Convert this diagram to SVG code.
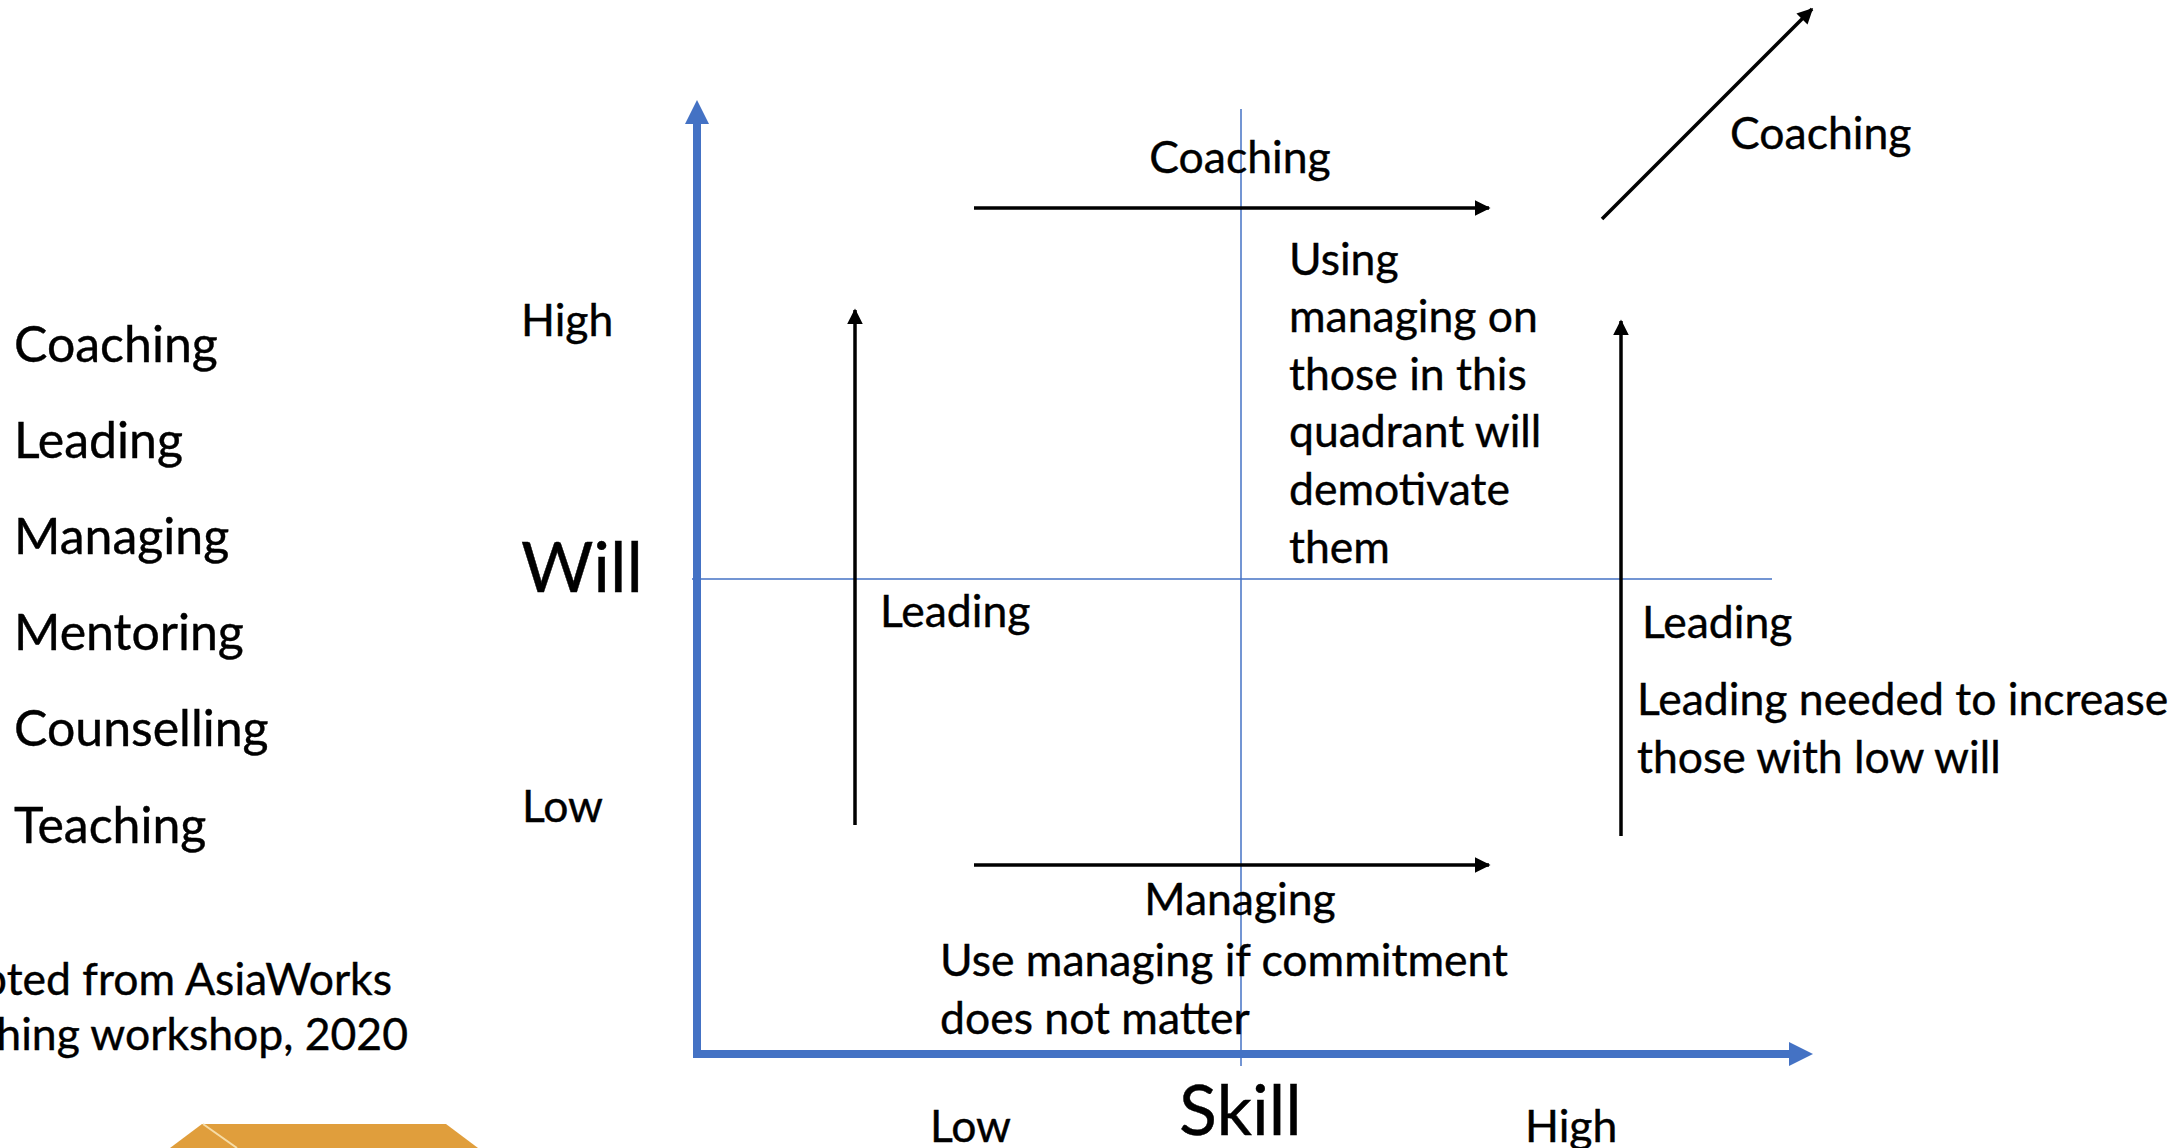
<svg xmlns="http://www.w3.org/2000/svg" width="2184" height="1148" viewBox="0 0 2184 1148">
  <defs>
    <style>
      text { font-family: Lato, "Open Sans", "Liberation Sans", sans-serif; fill: #000; stroke: #000; stroke-width: 0.4px; }
      .t { font-size: 44.5px; }
      .list { font-size: 50px; }
      .big { font-size: 70px; }
      .axis { stroke: #4472C4; stroke-width: 8; fill: none; }
      .grid { stroke: #4472C4; stroke-width: 1.5; fill: none; }
      .arrow { stroke: #000; stroke-width: 3.5; fill: none; marker-end: url(#head); }
    </style>
    <marker id="head" viewBox="0 0 10 10" refX="9" refY="5" markerWidth="4.5" markerHeight="4.5" markerUnits="strokeWidth" orient="auto">
      <path d="M0,0 L10,5 L0,10 z" fill="#000"/>
    </marker>
  </defs>
  <rect width="2184" height="1148" fill="#fff"/>

  <!-- list of approaches -->
  <g id="approach-list">
    <text class="list" x="14" y="362">Coaching</text>
    <text class="list" x="14" y="458">Leading</text>
    <text class="list" x="14" y="554">Managing</text>
    <text class="list" x="14" y="650">Mentoring</text>
    <text class="list" x="14" y="746">Counselling</text>
    <text class="list" x="14" y="843">Teaching</text>
  </g>

  <!-- source note -->
  <g id="source-note">
    <text class="t" x="392" y="995" text-anchor="end">Adapted from AsiaWorks</text>
    <text class="t" x="408" y="1050" text-anchor="end">Coaching workshop, 2020</text>
  </g>

  <!-- orange emblem at the bottom edge -->
  <g id="emblem">
    <polygon points="202,1124 446,1124 478,1148 170,1148" fill="#E09E3C"/>
    <line x1="203" y1="1124" x2="237" y2="1148" stroke="#F6DCA6" stroke-width="2"/>
  </g>

  <!-- axes and quadrant lines -->
  <g id="axes">
    <line class="grid" x1="1241" y1="109" x2="1241" y2="1066"/>
    <line class="grid" x1="692" y1="579" x2="1772" y2="579"/>
    <polyline class="axis" points="697,118 697,1054 1796,1054"/>
    <polygon points="697,100 685,124 709,124" fill="#4472C4"/>
    <polygon points="1813,1054 1789,1042 1789,1066" fill="#4472C4"/>
  </g>

  <!-- axis labels -->
  <g id="will-labels">
    <text class="t" x="521" y="336">High</text>
    <text class="big" x="521" y="592">Will</text>
    <text class="t" x="522" y="822">Low</text>
  </g>
  <g id="skill-labels">
    <text class="t" x="930" y="1142">Low</text>
    <text class="big" x="1179" y="1135">Skill</text>
    <text class="t" x="1525" y="1142">High</text>
  </g>

  <!-- transition arrows -->
  <g id="connectors">
    <line class="arrow" x1="974" y1="208" x2="1489" y2="208"/>
    <line class="arrow" x1="974" y1="865" x2="1489" y2="865"/>
    <line class="arrow" x1="855" y1="825" x2="855" y2="310"/>
    <line class="arrow" x1="1621" y1="836" x2="1621" y2="321"/>
    <line class="arrow" x1="1602" y1="219" x2="1812" y2="9"/>
  </g>

  <!-- arrow labels and notes -->
  <g id="coaching-top">
    <text class="t" x="1240" y="173" text-anchor="middle">Coaching</text>
  </g>
  <g id="coaching-diagonal">
    <text class="t" x="1730" y="149">Coaching</text>
  </g>
  <g id="note-high-skill">
    <text class="t" x="1289" y="275">Using</text>
    <text class="t" x="1289" y="332">managing on</text>
    <text class="t" x="1289" y="390">those in this</text>
    <text class="t" x="1289" y="447">quadrant will</text>
    <text class="t" x="1289" y="505">demotivate</text>
    <text class="t" x="1289" y="563">them</text>
  </g>
  <g id="leading-left">
    <text class="t" x="880" y="627">Leading</text>
  </g>
  <g id="leading-right">
    <text class="t" x="1642" y="638">Leading</text>
    <text class="t" x="1637" y="715">Leading needed to increase</text>
    <text class="t" x="1637" y="773">those with low will</text>
  </g>
  <g id="managing-bottom">
    <text class="t" x="1240" y="915" text-anchor="middle">Managing</text>
    <text class="t" x="940" y="976">Use managing if commitment</text>
    <text class="t" x="940" y="1034">does not matter</text>
  </g>
</svg>
